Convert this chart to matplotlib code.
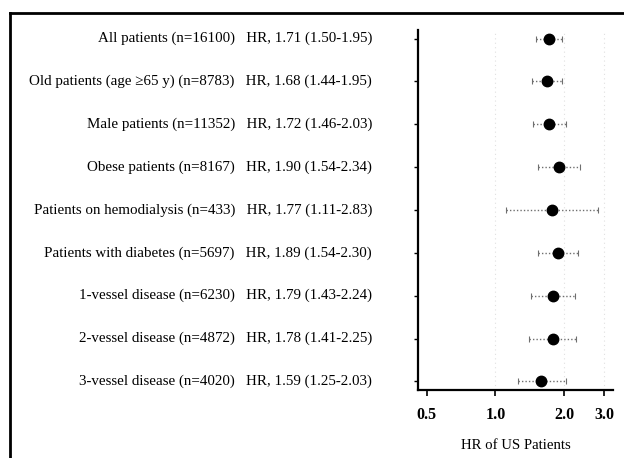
import matplotlib
matplotlib.use("Agg")
import matplotlib.pyplot as plt
import numpy as np
from matplotlib.lines import Line2D

labels = [
    "All patients (n=16100)",
    "Old patients (age \u226565 y) (n=8783)",
    "Male patients (n=11352)",
    "Obese patients (n=8167)",
    "Patients on hemodialysis (n=433)",
    "Patients with diabetes (n=5697)",
    "1-vessel disease (n=6230)",
    "2-vessel disease (n=4872)",
    "3-vessel disease (n=4020)",
]
hr = [1.71, 1.68, 1.72, 1.90, 1.77, 1.89, 1.79, 1.78, 1.59]
lo = [1.50, 1.44, 1.46, 1.54, 1.11, 1.54, 1.43, 1.41, 1.25]
hi = [1.95, 1.95, 2.03, 2.34, 2.83, 2.30, 2.24, 2.25, 2.03]
xticks = [0.5, 1.0, 2.0, 3.0]
xticklabels = ["0.5", "1.0", "2.0", "3.0"]
xlabel = "HR of US Patients"

serif = ["Liberation Serif", "DejaVu Serif"]
plt.rcParams["font.family"] = serif

W, H = 624, 458
fig = plt.figure(figsize=(W / 100, H / 100), dpi=100)
ax = fig.add_axes([418 / W, 1 - 390 / H, (613 - 418) / W, (390 - 30) / H])

ypos = np.arange(1, len(hr) + 1)
hr_a = np.array(hr); lo_a = np.array(lo); hi_a = np.array(hi)

for xv in [1.0, 2.0, 3.0]:
    ax.axvline(xv, color="#e0e0e0", lw=0.8, ls=(0, (1, 3)), zorder=0)

eb = ax.errorbar(hr_a, ypos, xerr=[hr_a - lo_a, hi_a - hr_a], fmt="o",
                 color="black", markersize=7.5, ecolor="#6f6f6f",
                 elinewidth=1.0, capsize=2.5, capthick=0.8, zorder=3)
for lc in eb[2]:
    lc.set_linestyle((0, (1, 1.5)))

ax.set_xscale("log")
ax.set_xlim(0.457, 3.28)
ax.set_ylim(9.2, 0.8)
ax.set_xticks(xticks)
ax.set_xticklabels(xticklabels, fontsize=11.5, fontweight="bold")
ax.xaxis.set_minor_locator(matplotlib.ticker.NullLocator())
ax.set_yticks(ypos)
ax.set_yticklabels([])
ax.tick_params(axis="y", length=3, width=1.0, direction="out")
ax.tick_params(axis="x", length=4, width=1.2, direction="out", pad=8)
for s in ["top", "right"]:
    ax.spines[s].set_visible(False)
ax.spines["left"].set_linewidth(1.6)
ax.spines["bottom"].set_linewidth(1.6)
ax.set_xlabel(xlabel, fontsize=10.6, labelpad=12)

trans = matplotlib.transforms.blended_transform_factory(fig.transFigure, ax.transData)
for i, lab in enumerate(labels):
    s = f"{lab}   HR, {hr[i]:.2f} ({lo[i]:.2f}-{hi[i]:.2f})"
    ax.text(372 / W, ypos[i], s, transform=trans, ha="right", va="center",
            fontsize=10.8, clip_on=False)

# figure frame (top and left)
fig.add_artist(Line2D([10 / W, 1.0], [1 - 13 / H, 1 - 13 / H], color="black", lw=2,
                      transform=fig.transFigure))
fig.add_artist(Line2D([10 / W, 10 / W], [0, 1 - 13 / H], color="black", lw=2,
                      transform=fig.transFigure))

fig.savefig("out.png", dpi=100)
